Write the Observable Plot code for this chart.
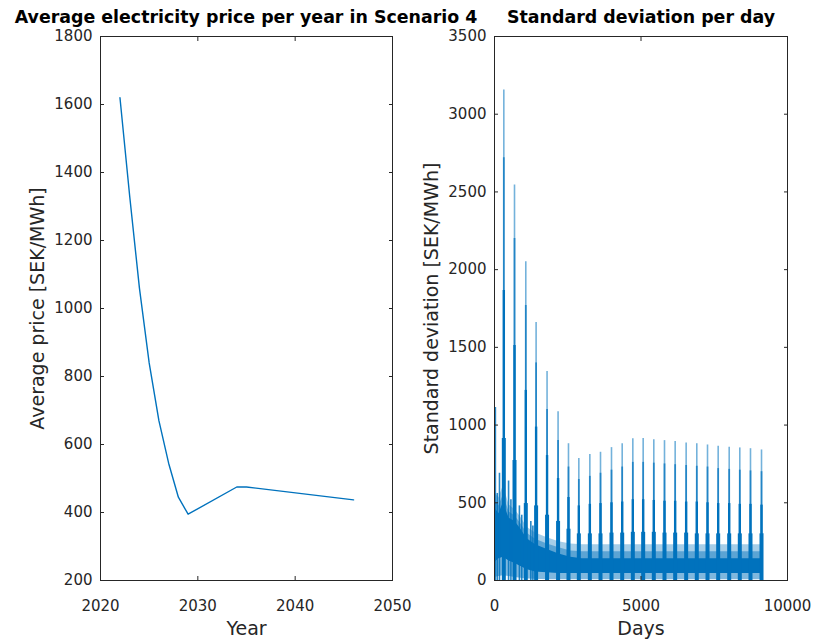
<!DOCTYPE html>
<html><head><meta charset="utf-8">
<script src="https://cdn.jsdelivr.net/npm/d3@7"></script>
<script src="https://cdn.jsdelivr.net/npm/@observablehq/plot@0.6"></script>
<style>
body{margin:0;background:#fff;}
#wrap{position:relative;width:815px;height:641px;overflow:hidden;background:#fff;}
#left{position:absolute;top:0;left:0;width:400px;}
#right{position:absolute;top:0;left:400px;width:415px;}
.title{position:absolute;top:9px;font-family:"DejaVu Sans";font-weight:bold;font-size:17.4px;line-height:17px;color:#000;white-space:nowrap;transform:translateX(-50%);}
</style></head><body>
<div id="wrap">
  <div id="left"></div>
  <div id="right"></div>
  <div class="title" style="left:246px">Average electricity price per year in Scenario 4</div>
  <div class="title" style="left:641px">Standard deviation per day</div>
</div>
<script>
// ---- Left chart data ----
const years = [2022, 2023, 2024, 2025, 2026, 2027, 2028, 2029, 2034, 2035, 2046];
const avgPrice = [1620, 1330, 1060, 840, 670, 545, 445, 395, 475, 475, 437];
const leftXTicks = [2020, 2030, 2040, 2050];
const leftYTicks = [200, 400, 600, 800, 1000, 1200, 1400, 1600, 1800];

// ---- Right chart data ----
const rightXTicks = [0, 5000, 10000];
const rightYTicks = [0, 500, 1000, 1500, 2000, 2500, 3000, 3500];
// yearly spike clusters (day of peak, peak top, upper light part, dark part, base cluster)
const spikeDays = [318, 683, 1068, 1420, 1794, 2170, 2525, 2878, 3254, 3618, 3993, 4358, 4721, 5074, 5437, 5802, 6166, 6541, 6904, 7270, 7634, 8010, 8372, 8737, 9113];
const peakVals  = [3155, 2545, 2050, 1660, 1345, 1085, 880, 785, 810, 825, 855, 880, 912, 914, 906, 900, 894, 885, 880, 872, 863, 858, 853, 848, 840];
const midVals   = [2720, 2200, 1770, 1400, 1100, 900, 730, 650, 670, 690, 710, 730, 760, 760, 755, 750, 745, 740, 735, 730, 720, 715, 710, 705, 700];
const darkVals  = [1866, 1512, 1223, 987, 804, 656, 534, 480, 490, 495, 500, 505, 520, 520, 515, 510, 510, 505, 505, 500, 495, 495, 490, 490, 485];
const baseVals  = [914, 772, 495, 480, 420, 380, 330, 300, 300, 300, 305, 305, 310, 310, 310, 305, 305, 305, 300, 300, 300, 300, 300, 300, 300];
// extra early spikes
const extraDays = [30, 95, 170, 480, 560, 850, 930, 1240, 1310];
const extraVals = [1113, 560, 690, 640, 520, 480, 420, 380, 350];
// dense daily band envelope
const bandDays = [0, 150, 300, 500, 700, 900, 1100, 1400, 1800, 2200, 2600, 3000, 4000, 5000, 6000, 7000, 8000, 9000, 9125];
const teethLo  = [20, 25, 30, 25, 20, 15, 10, 8, 5, 5, 5, 5, 5, 5, 5, 5, 5, 5, 5];
const bandLo   = [115, 140, 150, 125, 110, 90, 70, 55, 50, 45, 45, 45, 45, 45, 45, 45, 45, 45, 45];
const bandHi   = [470, 430, 500, 400, 380, 330, 270, 230, 200, 170, 150, 140, 140, 140, 140, 140, 140, 140, 140];
const bandMid  = [520, 480, 550, 440, 415, 365, 305, 265, 235, 210, 190, 185, 185, 185, 185, 185, 185, 185, 185];
const bandTex  = [570, 530, 610, 485, 455, 405, 345, 305, 275, 250, 235, 230, 230, 230, 230, 230, 230, 230, 230];

const blue = "#0072BD";
const axisColor = "#262626";

const leftData = years.map((y, i) => ({year: y, price: avgPrice[i]}));
const spikes = spikeDays.map((d, i) => ({day: d, peak: peakVals[i], mid: midVals[i], dark: darkVals[i], base: baseVals[i]}));
const extras = extraDays.map((d, i) => ({day: d, v: extraVals[i]}));
const band = bandDays.map((d, i) => ({day: d, t: teethLo[i], lo: bandLo[i], hi: bandHi[i], mid: bandMid[i], tex: bandTex[i]}));

function frameAxes(xt, yt, xl, yl) {
  return [
    Plot.frame({stroke: axisColor, strokeWidth: 1}),
    Plot.axisX(xt, {anchor: "bottom", tickSize: -4, tickPadding: 24, fontSize: 15, label: null, tickFormat: d => String(d)}),
    Plot.axisX(xt, {anchor: "top", tickSize: -4, tickFormat: () => "", label: null}),
    Plot.axisY(yt, {anchor: "left", tickSize: -4, tickPadding: 12, fontSize: 15, label: null, tickFormat: d => String(d)}),
    Plot.axisY(yt, {anchor: "right", tickSize: -4, tickFormat: () => "", label: null}),
    Plot.text([xl], {frameAnchor: "bottom", dy: 54, fontSize: 19, fill: axisColor}),
    Plot.text([yl], {frameAnchor: "left", dx: -63, rotate: -90, textAnchor: "middle", fontSize: 19, fill: axisColor})
  ];
}

const common = {
  height: 641, marginTop: 36, marginBottom: 61,
  style: {fontFamily: "DejaVu Sans", fontSize: "15px", color: axisColor, background: "transparent", overflow: "visible"}
};

const left = Plot.plot({
  ...common,
  width: 400, marginLeft: 100, marginRight: 8,
  x: {domain: [2020, 2050]},
  y: {domain: [200, 1800]},
  marks: [
    Plot.line(leftData, {x: "year", y: "price", stroke: blue, strokeWidth: 1.4}),
    ...frameAxes(leftXTicks, leftYTicks, "Year", "Average price [SEK/MWh]")
  ]
});
document.getElementById("left").append(left);

const right = Plot.plot({
  ...common,
  width: 415, marginLeft: 94, marginRight: 28,
  x: {domain: [0, 10000]},
  y: {domain: [0, 3500]},
  marks: [
    Plot.areaY(band, {x: "day", y1: "t", y2: "lo", fill: blue, fillOpacity: 0.5}),
    Plot.areaY(band, {x: "day", y1: "lo", y2: "tex", fill: blue, fillOpacity: 0.35}),
    Plot.areaY(band, {x: "day", y1: "lo", y2: "mid", fill: blue, fillOpacity: 0.45}),
    Plot.areaY(band, {x: "day", y1: "lo", y2: "hi", fill: blue}),
    Plot.ruleX(extras, {x: "day", y1: 0, y2: "v", stroke: blue, strokeWidth: 1.6, strokeOpacity: 0.85}),
    Plot.ruleX(spikes, {x: "day", y1: 0, y2: "peak", stroke: blue, strokeWidth: 1.6, strokeOpacity: 0.55}),
    Plot.ruleX(spikes, {x: "day", y1: 0, y2: "mid", stroke: blue, strokeWidth: 1.8, strokeOpacity: 0.7}),
    Plot.ruleX(spikes, {x: "day", y1: 0, y2: "dark", stroke: blue, strokeWidth: 2.4}),
    Plot.ruleX(spikes, {x: "day", y1: 0, y2: "base", stroke: blue, strokeWidth: 4}),
    ...frameAxes(rightXTicks, rightYTicks, "Days", "Standard deviation [SEK/MWh]")
  ]
});
document.getElementById("right").append(right);
</script>
</body></html>
